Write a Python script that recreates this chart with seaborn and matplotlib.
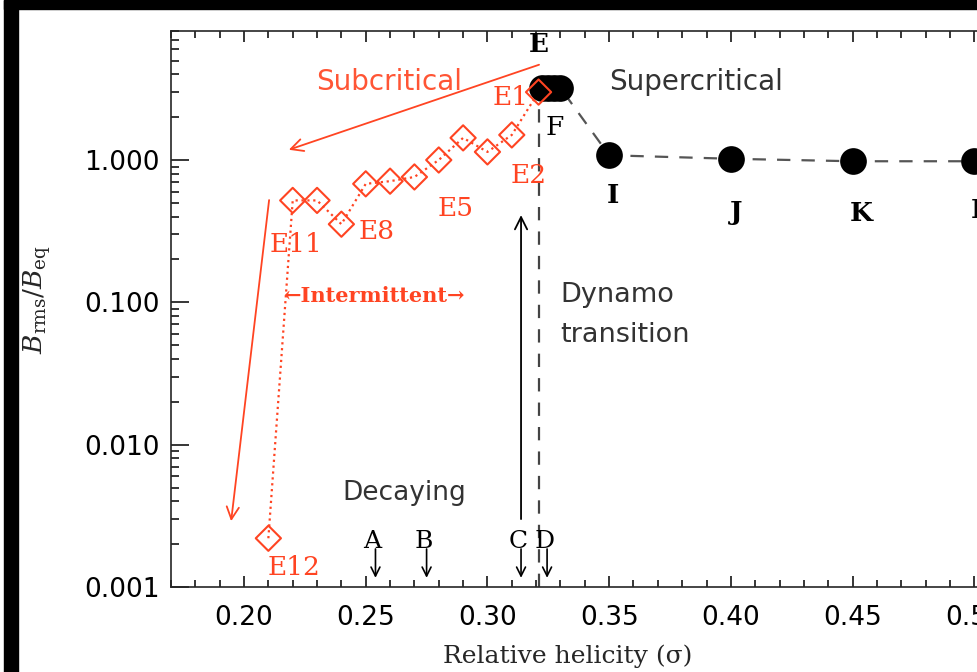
import numpy as np
import pandas as pd
import matplotlib
matplotlib.use("Agg")
import matplotlib.pyplot as plt
import seaborn as sns
from matplotlib.patches import Rectangle

# subcritical branch (red diamonds), sigma vs Brms/Beq
e_sigma = [0.21, 0.22, 0.23, 0.24, 0.25, 0.26, 0.27, 0.28, 0.29, 0.30, 0.31, 0.321]
e_brms = [0.0022, 0.52, 0.52, 0.354, 0.68, 0.71, 0.76, 1.00, 1.43, 1.14, 1.50, 3.0]

# supercritical branch (black dots)
s_sigma = [0.3226, 0.3250, 0.3275, 0.3300, 0.35, 0.40, 0.45, 0.50]
s_brms = [3.2, 3.2, 3.2, 3.2, 1.08, 1.02, 0.98, 0.98]
s_labels = ["I", "J", "K", "L"]

# decaying runs marked with arrows
d_sigma = [0.254, 0.275, 0.3138, 0.3245]
d_labels = ["A", "B", "C", "D"]

RED = "#ff4422"
TXT_RED = "#ff5535"
GREY = "#333333"

sns.set_style("ticks")
plt.rcParams["font.family"] = ["DejaVu Sans"]
plt.rcParams["mathtext.fontset"] = "dejavuserif"

fig = plt.figure(figsize=(9.78, 6.72), dpi=100)
ax = fig.add_axes([171 / 978, 85 / 672, 925 / 978, 556 / 672])

df_e = pd.DataFrame({"sigma": e_sigma, "brms": e_brms})
df_s = pd.DataFrame({"sigma": s_sigma, "brms": s_brms})

# connecting lines
sns.lineplot(data=df_e, x="sigma", y="brms", sort=False, ax=ax, color=RED,
             linestyle=":", lw=1.6, zorder=2)
sns.lineplot(data=df_s, x="sigma", y="brms", sort=False, ax=ax, color="#555555",
             dashes=False, lw=1.6, zorder=1).lines[-1].set_dashes((6, 5))
ax.plot([0.321, 0.321], [0.001, 2.9], color="#444444", lw=1.6, dashes=(6, 5), zorder=1)

# markers
sns.scatterplot(data=df_s, x="sigma", y="brms", ax=ax, color="black", s=370,
                edgecolor="black", linewidth=0, zorder=3)
sns.scatterplot(data=df_e, x="sigma", y="brms", ax=ax, marker="D", s=165,
                facecolors="none", edgecolor=RED, linewidth=1.5, zorder=4)

ax.set_yscale("log")
ax.set_xlim(0.17, 0.55)
ax.set_ylim(0.001, 8.06)
ax.set_xticks([0.20, 0.25, 0.30, 0.35, 0.40, 0.45, 0.50])
ax.set_xticklabels(["0.20", "0.25", "0.30", "0.35", "0.40", "0.45", "0.50"])
ax.set_xticks(np.arange(0.17, 0.551, 0.01), minor=True)
ax.set_yticks([0.001, 0.01, 0.1, 1.0])
ax.set_yticklabels(["0.001", "0.010", "0.100", "1.000"])
ax.set_xlabel("")
ax.set_ylabel("")
for s in ax.spines.values():
    s.set_visible(True)
    s.set_linewidth(1.2)
ax.tick_params(axis="both", which="both", direction="in", top=True, right=True,
               labelsize=19, colors="black", width=1.1)
ax.tick_params(axis="x", which="major", length=8, pad=13)
ax.tick_params(axis="x", which="minor", length=5)
ax.tick_params(axis="y", which="major", length=13, pad=8)
ax.tick_params(axis="y", which="minor", length=6)

# arrows
arr = dict(arrowstyle="->", mutation_scale=22, shrinkA=0, shrinkB=0)
ax.annotate("", xy=(0.2184, 1.18), xytext=(0.3212, 4.67),
            arrowprops=dict(arr, color=RED, lw=1.3))
ax.annotate("", xy=(0.1947, 0.0029), xytext=(0.2103, 0.523),
            arrowprops=dict(arr, color=RED, lw=1.3))
ax.annotate("", xy=(0.3138, 0.41), xytext=(0.3138, 0.003),
            arrowprops=dict(arr, color="black", lw=1.3))
for x, lab in zip(d_sigma, d_labels):
    ax.annotate("", xy=(x, 0.00116), xytext=(x, 0.00185),
                arrowprops=dict(arr, color="black", lw=1.2, mutation_scale=16))
    ax.text(x - 0.0012, 0.0021, lab, ha="center", va="center", fontsize=18,
            family="DejaVu Serif", color="black")

# region texts
ax.text(0.2596, 3.53, "Subcritical", color=TXT_RED, fontsize=20, ha="center", va="center")
ax.text(0.3857, 3.53, "Supercritical", color=GREY, fontsize=20, ha="center", va="center")
ax.text(0.3298, 0.1125, "Dynamo", color=GREY, fontsize=19.5, ha="left", va="center")
ax.text(0.3298, 0.0589, "transition", color=GREY, fontsize=19.5, ha="left", va="center")
ax.text(0.2657, 0.00457, "Decaying", color=GREY, fontsize=19, ha="center", va="center")
ax.text(0.2534, 0.1107, "\u2190Intermittent\u2192", color=RED, fontsize=15,
        family="DejaVu Serif", weight="bold", ha="center", va="center")

# point labels
serif = dict(family="DejaVu Serif", ha="center", va="center", fontsize=19)
ax.text(0.3212, 6.43, "E", color="black", weight="bold", **serif)
ax.text(0.3278, 1.705, "F", color="black", **serif)
for x, y, lab in [(0.3095, 2.77, "E1"), (0.3171, 0.784, "E2"), (0.2871, 0.460, "E5"),
                  (0.2546, 0.312, "E8"), (0.2214, 0.253, "E11"), (0.2205, 0.00138, "E12")]:
    ax.text(x, y, lab, color=RED, **serif)
for x, y, lab in zip([0.3516, 0.4021, 0.4535, 0.5025], [0.567, 0.431, 0.424, 0.44], s_labels):
    ax.text(x, y, lab, color="black", weight="bold", **serif)

fig.text(568 / 978, 1 - 656 / 672, "Relative helicity (\u03c3)", fontsize=18,
         family="DejaVu Serif", ha="center", va="center")
fig.text(35 / 978, 1 - 300 / 672, r"$\overline{B}_{\rm rms}/B_{\rm eq}$", fontsize=19,
         rotation=90, ha="center", va="center")

# black frame of the original screenshot
fig.patches.append(Rectangle((4 / 978, 0), 14 / 978, 1, transform=fig.transFigure,
                             color="black", zorder=10))
fig.patches.append(Rectangle((4 / 978, 1 - 9 / 672), 1, 9 / 672, transform=fig.transFigure,
                             color="black", zorder=10))

fig.savefig("out.png", dpi=100)
